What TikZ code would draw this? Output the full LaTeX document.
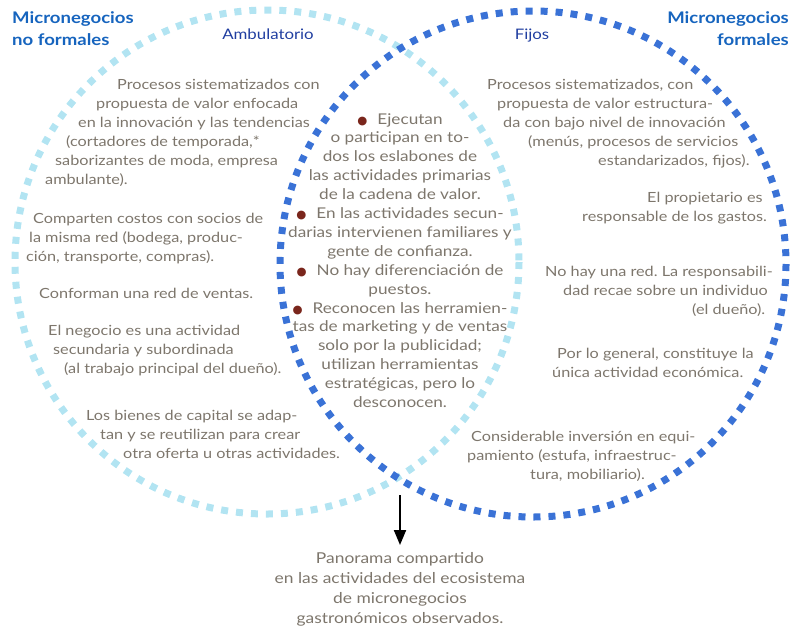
\documentclass[tikz,border=0pt]{standalone}
\usepackage{fontspec}
\setmainfont{Lato}[FakeStretch=1.16]
\newfontfamily\symfont{DejaVu Sans}
\usetikzlibrary{arrows.meta}
\definecolor{pale}{RGB}{178,228,242}
\definecolor{deep}{RGB}{58,114,214}
\definecolor{headblue}{RGB}{22,100,190}
\definecolor{subblue}{RGB}{32,62,160}
\definecolor{textgray}{RGB}{125,118,108}
\definecolor{dotred}{RGB}{122,38,28}
\newcommand{\dotmark}{\textcolor{dotred}{\symfont\fontsize{11.5}{11}\selectfont ●}\hspace{10pt}}
\frenchspacing
\begin{document}
\begin{tikzpicture}[x=1pt,y=-1pt,
    body/.style={text=textgray,font=\fontsize{14}{19}\selectfont,inner sep=0pt},
    head/.style={text=headblue,font=\bfseries\fontsize{16}{22}\selectfont,inner sep=0pt},
    sub/.style={text=subblue,font=\fontsize{14.5}{18}\selectfont,inner sep=0pt},
    ring/.style={line width=7pt,dash pattern=on 7pt off 8pt}]
\useasboundingbox (0,0) rectangle (800,635);
% the two sets
\draw[ring,pale] (267,262) circle[radius=252];
\draw[ring,deep] (533,264) circle[radius=253];
% headings
\node[head,anchor=north west,align=left] (noformal) at (12,11) {Micronegocios\\no formales};
\node[head,anchor=north east,align=right] (formal) at (789,11) {Micronegocios\\formales};
\node[sub,anchor=base] (amb) at (268,39) {Ambulatorio};
\node[sub,anchor=base] (fijos) at (532,39) {Fijos};
% left side
\node[body,anchor=north west,align=left] (amb1) at (45,79) {\hspace*{72pt}Procesos sistematizados con\\
  \hspace*{51pt}propuesta de valor enfocada\\
  \hspace*{33pt}en la innovación y las tendencias\\
  \hspace*{21pt}(cortadores de temporada,*\\
  \hspace*{10pt}saborizantes de moda, empresa\\
  ambulante).};
\node[body,anchor=north west,align=left] (amb2) at (26,213) {\hspace*{7pt}Comparten costos con socios de\\
  \hspace*{3pt}la misma red (bodega, produc-\\
  ción, transporte, compras).};
\node[body,anchor=north west,align=left] (amb3) at (39,288) {Conforman una red de ventas.};
\node[body,anchor=north west,align=left] (amb4) at (48,325) {El negocio es una actividad\\
  \hspace*{5pt}secundaria y subordinada\\
  \hspace*{16pt}(al trabajo principal del dueño).};
\node[body,anchor=north west,align=left] (amb5) at (86,410) {Los bienes de capital se adap-\\
  \hspace*{14pt}tan y se reutilizan para crear\\
  \hspace*{37pt}otra oferta u otras actividades.};
% shared middle
\node[body,font=\fontsize{14.8}{18.9}\selectfont,anchor=north,align=center] (mid) at (400,113) {\dotmark Ejecutan\\
  o participan en to-\\
  dos los eslabones de\\
  las actividades primarias\\
  de la cadena de valor.\\
  \dotmark En las actividades secun-\\
  darias intervienen familiares y\\
  gente de confianza.\\
  \dotmark No hay diferenciación de\\
  puestos.\\
  \dotmark Reconocen las herramien-\\
  tas de marketing y de ventas\\
  solo por la publicidad;\\
  utilizan herramientas\\
  estratégicas, pero lo\\
  desconocen.};
% right side
\node[body,anchor=north west,align=left] (fij1) at (487,79) {Procesos sistematizados, con\\
  \hspace*{10pt}propuesta de valor estructura-\\
  \hspace*{16pt}da con bajo nivel de innovación\\
  \hspace*{41pt}(menús, procesos de servicios\\
  \hspace*{111pt}estandarizados, fijos).};
\node[body,anchor=north west,align=left] (fij2) at (582,192) {\hspace*{65pt}El propietario es\\
  responsable de los gastos.};
\node[body,anchor=north west,align=left] (fij3) at (545,266) {No hay una red. La responsabili-\\
  \hspace*{18pt}dad recae sobre un individuo\\
  \hspace*{147pt}(el dueño).};
\node[body,anchor=north west,align=left] (fij4) at (552,348) {\hspace*{5pt}Por lo general, constituye la\\
  única actividad económica.};
\node[body,anchor=north west,align=left] (fij5) at (467,431) {\hspace*{4pt}Considerable inversión en equi-\\
  pamiento (estufa, infraestruc-\\
  \hspace*{63pt}tura, mobiliario).};
% result
\coordinate (meet) at (400,495);
\node[body,font=\fontsize{15}{20}\selectfont,anchor=north,align=center,inner sep=2pt] (shared) at (400,550) {Panorama compartido\\
  en las actividades del ecosistema\\
  de micronegocios\\
  gastronómicos observados.};
\draw[-{Triangle[width=12pt,length=15pt]},line width=2pt,shorten >=5pt] (meet) -- (shared.north);
\end{tikzpicture}
\end{document}
